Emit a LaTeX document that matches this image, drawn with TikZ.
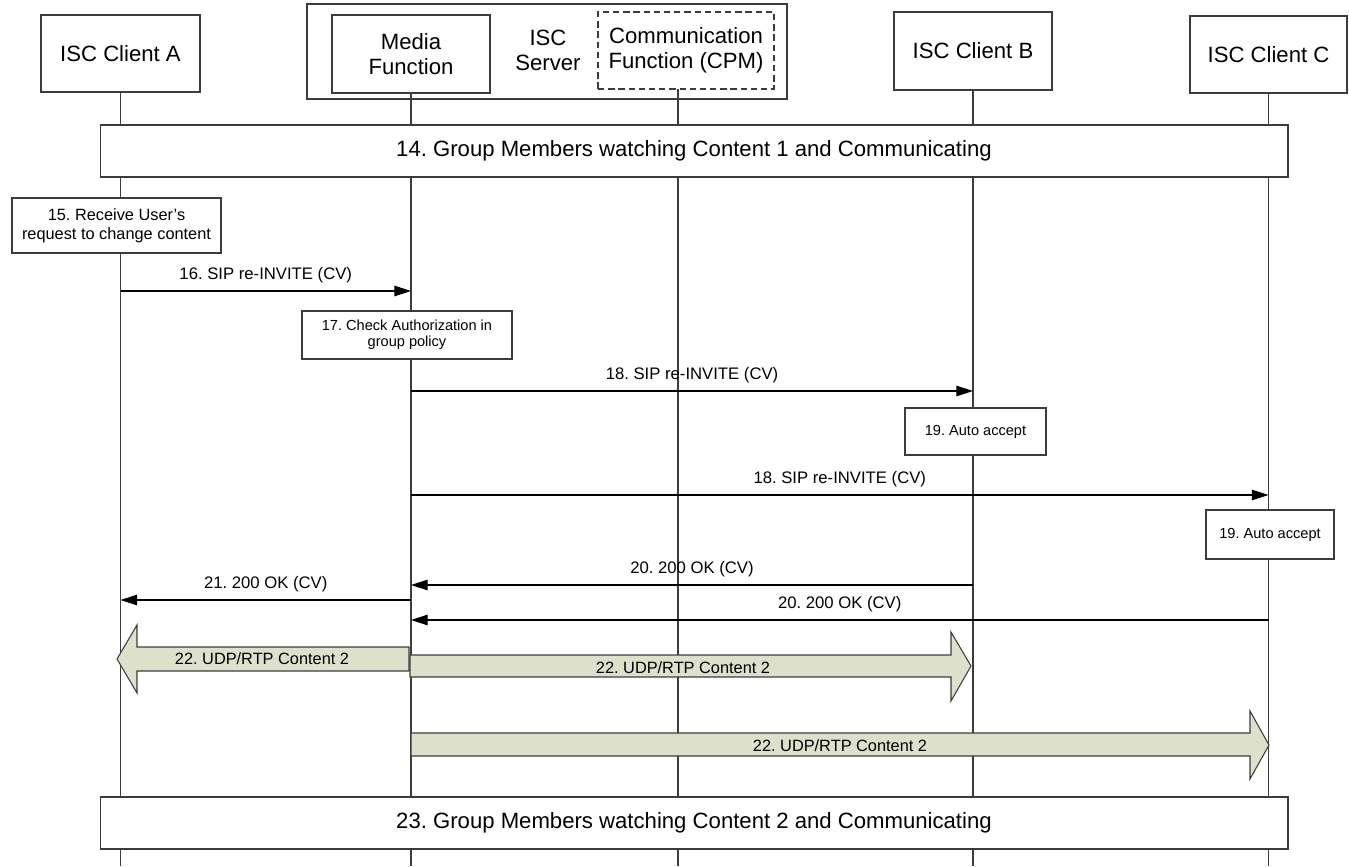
\documentclass[tikz,border=0pt]{standalone}
\usepackage{fontspec}
\setmainfont{Liberation Sans}
\usetikzlibrary{arrows.meta}
\definecolor{rtpfill}{RGB}{221,225,204}
\definecolor{linegray}{RGB}{60,60,60}
\frenchspacing

\begin{document}
\begin{tikzpicture}[x=0.02cm, y=-0.02cm,
  entity/.style={draw=linegray, line width=0.7pt, fill=white, inner sep=0pt, align=center, font=\fontsize{12.6}{14.2}\selectfont},
  groupframe/.style={draw=linegray, line width=0.7pt, fill=white, inner sep=0pt, minimum width=23.76cm, minimum height=1.04cm, font=\fontsize{12.6}{14.2}\selectfont},
  action/.style={draw=linegray, line width=0.7pt, fill=white, inner sep=0pt, align=center},
  life/.style={linegray, line width=0.7pt},
  msg/.style={line width=0.6pt, -{Triangle[length=9.5pt,width=6pt]}},
  lbl/.style={font=\fontsize{9.5}{12}\selectfont, inner sep=0pt, anchor=base, yshift=6.8pt},
  rtp/.style={draw=linegray, line width=0.6pt, fill=rtpfill},
  rtplbl/.style={font=\fontsize{9.3}{11}\selectfont, inner sep=0pt, anchor=base}
]
\useasboundingbox (0,0) rectangle (1349,866);

% participants
\node[entity, minimum width=3.18cm, minimum height=1.54cm] at (120.5,53.5) (clientA) {ISC Client A};
\node[entity, minimum width=9.6cm, minimum height=1.9cm] at (547,51.5) (server) {};
\node[font=\fontsize{12.6}{14.2}\selectfont, align=center, inner sep=0pt] at (548,50) (servertxt) {ISC\\Server};
\node[entity, minimum width=3.16cm, minimum height=1.56cm] at (411,54) (media) {Media\\Function};
\node[entity, dash pattern=on 3.6pt off 2.2pt, minimum width=3.52cm, minimum height=1.54cm] at (686,50.5) (cpm) {Communication\\Function (CPM)};
\node[entity, minimum width=3.16cm, minimum height=1.56cm] at (973,51) (clientB) {ISC Client B};
\node[entity, minimum width=3.14cm, minimum height=1.54cm] at (1268.5,54.5) (clientC) {ISC Client C};
\coordinate (cpmfoot) at (678,89);

% lifelines
\draw[life] (clientA.south) -- (clientA |- 0,866);
\draw[life] (media.south) -- (media |- 0,866);
\draw[life] (cpmfoot) -- (cpmfoot |- 0,866);
\draw[life] (clientB.south) -- (clientB |- 0,866);
\draw[life] (clientC.south) -- (clientC |- 0,866);

\node[groupframe] at (694,151) (g14) {14. Group Members watching Content 1 and Communicating};

% steps 15 to 21
\node[action, minimum width=4.18cm, minimum height=1.1cm, font=\fontsize{9.3}{10.8}\selectfont] at (116.5,225.5) (s15) {15. Receive User's\\request to change content};
\draw[msg] (clientA |- 0,291) -- (media |- 0,291) node[lbl, midway] {16. SIP re-INVITE (CV)};
\node[action, minimum width=4.2cm, minimum height=0.96cm, font=\fontsize{8.3}{9.1}\selectfont] at (407,335) (s17) {17. Check Authorization in\\group policy};
\draw[msg] (media |- 0,391) -- (clientB |- 0,391) node[lbl, midway] {18. SIP re-INVITE (CV)};
\node[action, minimum width=2.82cm, minimum height=0.94cm, font=\fontsize{8.3}{9.1}\selectfont] at (975.5,431.5) (s19b) {19. Auto accept};
\draw[msg] (media |- 0,495) -- (clientC |- 0,495) node[lbl, midway] {18. SIP re-INVITE (CV)};
\node[action, minimum width=2.56cm, minimum height=0.98cm, font=\fontsize{8.3}{9.1}\selectfont] at (1270,534.5) (s19c) {19. Auto accept};
\draw[msg] (clientB |- 0,585) -- (media |- 0,585) node[lbl, midway] {20. 200 OK (CV)};
\draw[msg] (media |- 0,600) -- (clientA |- 0,600) node[lbl, midway] {21. 200 OK (CV)};
\draw[msg] (clientC |- 0,620) -- (media |- 0,620) node[lbl, midway] {20. 200 OK (CV)};

% media streams
\draw[rtp] (409,647) -- (137,647) -- (137,625) -- (117,659) -- (137,693) -- (137,671) -- (409,671) -- cycle;
\node[rtplbl] at (262,664) (rtpA) {22. UDP/RTP Content 2};
\draw[rtp] (410,655) -- (951,655) -- (951,632) -- (971,666) -- (951,701) -- (951,677) -- (410,677) -- cycle;
\node[rtplbl] at (683,673) (rtpB) {22. UDP/RTP Content 2};
\draw[rtp] (411,733) -- (1250,733) -- (1250,711) -- (1269,745) -- (1250,779) -- (1250,756) -- (411,756) -- cycle;
\node[rtplbl] at (840,751) (rtpC) {22. UDP/RTP Content 2};

\node[groupframe] at (694,823) (g23) {23. Group Members watching Content 2 and Communicating};
\end{tikzpicture}
\end{document}
